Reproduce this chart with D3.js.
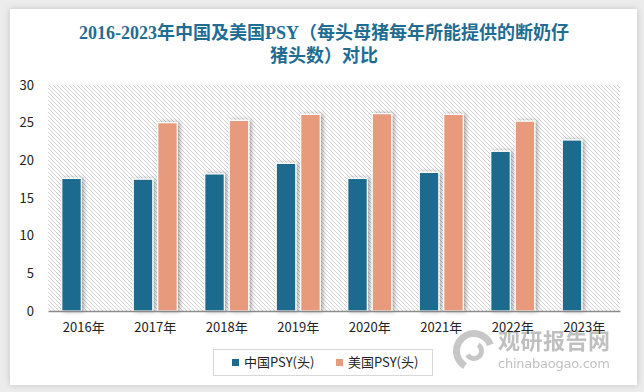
<!DOCTYPE html>
<html><head><meta charset="utf-8">
<script src="https://cdn.jsdelivr.net/npm/d3@7/dist/d3.min.js"></script>
<style>
html,body{margin:0;padding:0;background:#ececec;}
svg{display:block;}
</style></head>
<body>
<svg id="c" width="644" height="392"></svg>
<script>
const years = ["2016年","2017年","2018年","2019年","2020年","2021年","2022年","2023年"];
const chinaPSY = [17.6, 17.5, 18.2, 19.6, 17.6, 18.4, 21.2, 22.7];
const usPSY = [null, 25.0, 25.3, 26.1, 26.2, 26.1, 25.2, null];
const yTicks = [0, 5, 10, 15, 20, 25, 30];
const seriesNames = ["中国PSY(头)", "美国PSY(头)"];
const colors = ["#1b6b8e", "#e89b7b"];

const svg = d3.select("#c");
const defs = svg.append("defs");
const pat = defs.append("pattern").attr("id","hatch").attr("patternUnits","userSpaceOnUse")
  .attr("width",4).attr("height",4);
pat.append("rect").attr("width",4).attr("height",4).attr("fill","#fff");
pat.append("path").attr("d","M0,0L4,4M-1,3L1,5M3,-1L5,1").attr("stroke","#d2d2d2").attr("stroke-width",1);
const f = defs.append("filter").attr("id","sh").attr("x","-50%").attr("y","-20%").attr("width","200%").attr("height","140%");
f.append("feDropShadow").attr("dx",2).attr("dy",0).attr("stdDeviation",2).attr("flood-color","#000").attr("flood-opacity",0.35);
const cf = defs.append("filter").attr("id","csh").attr("x","-5%").attr("y","-5%").attr("width","110%").attr("height","110%");
cf.append("feDropShadow").attr("dx",0).attr("dy",0).attr("stdDeviation",3).attr("flood-color","#000").attr("flood-opacity",0.18);

// card
svg.append("rect").attr("x",10).attr("y",9).attr("width",627).attr("height",376).attr("fill","#fff").attr("filter","url(#csh)");

// title
const title = svg.append("text").attr("text-anchor","middle")
  .attr("font-family","'Liberation Serif','Noto Sans CJK SC',serif").attr("font-weight","bold")
  .attr("font-size",18).attr("fill","#1f6d92");
title.append("tspan").attr("x",324).attr("y",39).text("2016-2023年中国及美国PSY（每头母猪每年所能提供的断奶仔");
title.append("tspan").attr("x",324).attr("y",62).text("猪头数）对比");

const L=48, R=620, T=85, B=311;
const y = d3.scaleLinear().domain([0,30]).range([B,T]);
const x = d3.scaleBand().domain(years).range([L,R]).padding(0);
const bw = x.bandwidth();
const sub = d3.scaleBand().domain([0,1]).range([bw/2-22, bw/2+22]).paddingInner(0.2);

svg.append("rect").attr("x",L).attr("y",T).attr("width",R-L).attr("height",B-T).attr("fill","url(#hatch)");

const series = [chinaPSY, usPSY];
series.forEach((vals, si) => {
  svg.append("g").selectAll("rect").data(years.map((yr,i)=>({yr, v: vals[i]})).filter(d=>d.v!=null))
    .join("rect")
    .attr("x", d => x(d.yr) + sub(si))
    .attr("y", d => y(d.v))
    .attr("width", sub.bandwidth())
    .attr("height", d => B - y(d.v))
    .attr("fill", colors[si])
    .attr("stroke","#fff").attr("stroke-width",1.2)
    .attr("filter","url(#sh)");
});

// axes
const yAxis = svg.append("g").attr("transform",`translate(${L},0)`)
  .call(d3.axisLeft(y).tickValues(yTicks).tickSize(0).tickPadding(14));
yAxis.select(".domain").remove();
yAxis.selectAll("text").attr("font-family","'Noto Sans CJK SC','DejaVu Sans',sans-serif").attr("font-size",13).attr("fill","#222");

// watermark (drawn under the axis labels)
const wm = svg.append("g").attr("opacity",0.55);
wm.append("path").attr("d", d3.arc()({innerRadius:14, outerRadius:21, startAngle:-2.6, endAngle:1.2}))
  .attr("transform","translate(474,351)").attr("fill","#9a9a9a");
wm.append("path").attr("d", d3.arc()({innerRadius:5, outerRadius:10, startAngle:0.6, endAngle:4.2}))
  .attr("transform","translate(474,351)").attr("fill","#9a9a9a");
wm.append("text").attr("x",498).attr("y",349).attr("font-family","'Noto Sans CJK SC',sans-serif").attr("font-weight","bold")
  .attr("font-size",22).attr("fill","#8c8c8c").attr("textLength",112).text("观研报告网");
wm.append("text").attr("x",498).attr("y",368).attr("font-family","'DejaVu Sans',sans-serif")
  .attr("font-size",13).attr("fill","#8c8c8c").attr("textLength",112).text("chinabaogao.com");

const xAxis = svg.append("g").attr("transform",`translate(0,${B})`)
  .call(d3.axisBottom(x).tickSize(0).tickPadding(12));
xAxis.select(".domain").attr("stroke","#8a8a8a").attr("stroke-width",1.5);
xAxis.selectAll("text").attr("font-family","'Noto Sans CJK SC','DejaVu Sans',sans-serif").attr("font-size",13).attr("fill","#222");

// legend
const lg = svg.append("g");
lg.append("rect").attr("x",213.5).attr("y",349.5).attr("width",219).attr("height",26).attr("fill","#fff").attr("stroke","#d8d8d8");
const items = [{x:232}, {x:336}];
seriesNames.forEach((n,i)=>{
  lg.append("rect").attr("x",items[i].x).attr("y",359).attr("width",7).attr("height",7).attr("fill",colors[i]);
  lg.append("text").attr("x",items[i].x+12).attr("y",367).attr("font-family","'Noto Sans CJK SC',sans-serif")
    .attr("font-size",13).attr("fill","#222").text(n);
});
</script>
</body></html>
